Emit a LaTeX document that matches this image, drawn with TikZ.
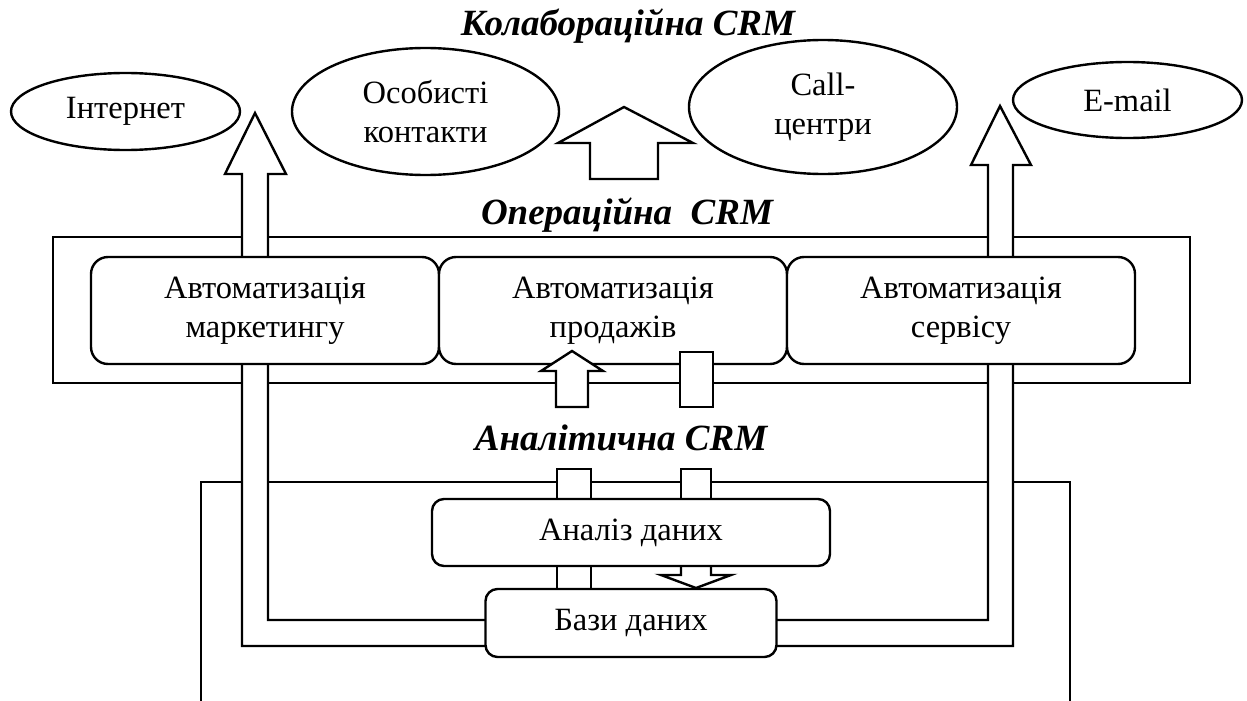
\documentclass[tikz,border=0pt]{standalone}
\usepackage{fontspec}
\setmainfont{Liberation Serif}
\usetikzlibrary{shapes.geometric, positioning}

\tikzset{
  channel/.style={draw, ellipse, fill=white, inner sep=0pt, align=center},
  autobox/.style={draw, fill=white, rounded corners=17pt, inner sep=0pt,
                  outer sep=0pt, align=center, minimum width=348pt, minimum height=107pt},
  databox/.style={draw, fill=white, rounded corners=12pt, inner sep=0pt, outer sep=0pt},
  layer/.style={anchor=base, inner sep=0pt, font=\fontsize{37}{42}\selectfont\bfseries\itshape},
  pipe/.style={draw, fill=white},
}

\begin{document}
\begin{tikzpicture}[x=1pt, y=-1pt, line width=2.4pt, line join=miter,
                    font=\fontsize{32.5}{39}\selectfont]
  \useasboundingbox (0,0) rectangle (1247,701);
  % ── Analytical frame, open at the bottom ───────────────────────
  \draw (201,706) -- (201,482) -- (1070,482) -- (1070,706);
  % ── Operational frame ──────────────────────────────────────────
  \draw (53,237) rectangle (1190,383);
  % ── U-shaped pipe from the data base up to Internet / E-mail ───
  \draw[pipe] (242,174) -- (225,174) -- (255,113) -- (286,174) -- (268,174)
    -- (268,620) -- (988,620) -- (988,165) -- (971,165) -- (1000,106)
    -- (1031,165) -- (1013,165) -- (1013,646) -- (242,646) -- cycle;
  % ── Automation boxes ───────────────────────────────────────────
  \foreach \cx/\nm/\txt in {265/mkt/{Автоматизація\\маркетингу},
                            613/sales/{Автоматизація\\продажів},
                            961/serv/{Автоматизація\\сервісу}} {
    \node[autobox] (\nm) at (\cx,310.5) {\txt};
  }
  % up arrow and plain link under sales
  \draw[pipe] (556,407) -- (556,371) -- (541,371) -- (572,351) -- (603,371)
    -- (588,371) -- (588,407) -- cycle;
  \draw[pipe] (680,352) rectangle (713,407);
  % ── Links into the analysis box ────────────────────────────────
  \foreach \xa/\xb in {557/591, 681/711} {
    \draw[pipe] (\xa,469) rectangle (\xb,499);
  }
  \draw[pipe] (557,566) rectangle (591,589);
  \draw[pipe] (681,566) -- (681,575) -- (661,575) -- (696,588) -- (731,575)
    -- (711,575) -- (711,566);
  \node[databox, minimum width=398pt, minimum height=67pt] (analysis) at (631,532.5) {Аналіз даних};
  \node[databox, minimum width=291pt, minimum height=68pt, below=23pt of analysis] (bases) {Бази даних};
  % ── Big arrow to the collaborative layer ───────────────────────
  \draw[pipe] (590,179) -- (590,143) -- (558,143) -- (624,107) -- (693,143)
    -- (658,143) -- (658,179) -- cycle;
  % ── Channels ───────────────────────────────────────────────────
  \node[channel, minimum width=229pt, minimum height=77pt]  (inet)     at (125.5,111.5) {Інтернет};
  \node[channel, minimum width=267pt, minimum height=127pt] (personal) at (425.5,111.5) {Особисті\\контакти};
  \node[channel, minimum width=268pt, minimum height=134pt] (callc)    at (823,107)     {Call-\\центри};
  \node[channel, minimum width=229pt, minimum height=76pt]  (email)    at (1127.5,100)  {E-mail};
  % ── Layer titles ───────────────────────────────────────────────
  \node[layer] (collab) at (628,36)  {Колабораційна CRM};
  \node[layer] (oper)   at (627,224) {Операційна~~CRM};
  \node[layer] (anal)   at (621,450) {Аналітична CRM};
\end{tikzpicture}
\end{document}
